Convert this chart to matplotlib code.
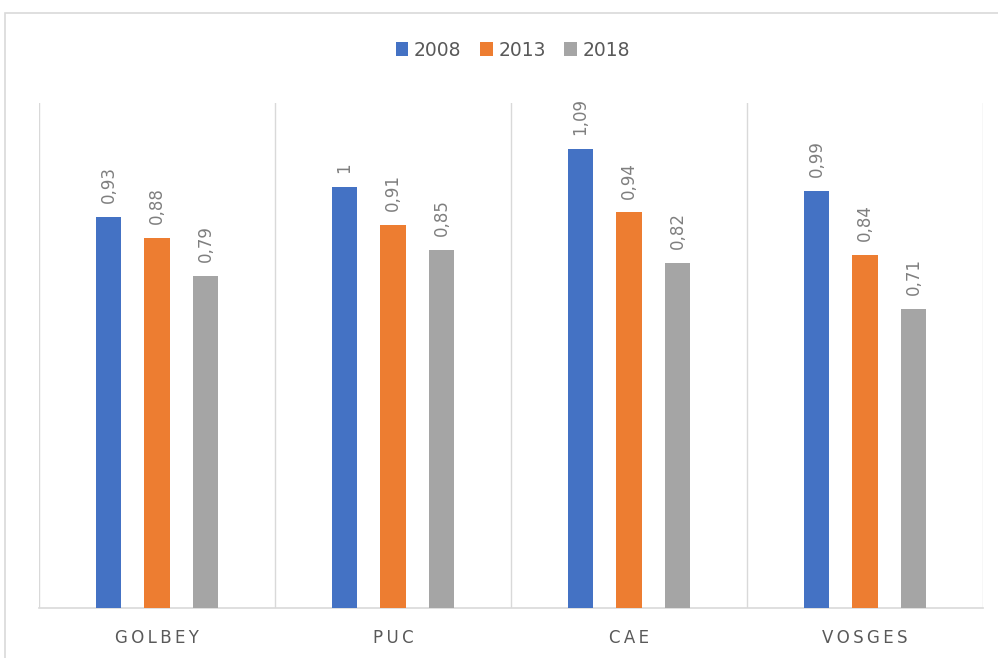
import matplotlib.pyplot as plt
import numpy as np
from matplotlib.patches import Rectangle

# Données
categories = ["GOLBEY", "PUC", "CAE", "VOSGES"]
annees = ["2008", "2013", "2018"]
v2008 = [0.93, 1.00, 1.09, 0.99]
v2013 = [0.88, 0.91, 0.94, 0.84]
v2018 = [0.79, 0.85, 0.82, 0.71]
couleurs = ["#4472C4", "#ED7D31", "#A5A5A5"]

gris = "#595959"
gris_clair = "#7F7F7F"
ligne = "#D9D9D9"

fig = plt.figure(figsize=(9.98, 6.58), dpi=100)
ax = fig.add_axes([39 / 998, 50 / 658, 944 / 998, 505 / 658])

# Cadre du graphique (coupé à droite et en bas)
fig.patches.append(Rectangle((5 / 998, -0.05), 1.2, 1 - 13 / 658 + 0.05,
                             transform=fig.transFigure, fill=False,
                             edgecolor=ligne, linewidth=1.2))

x = np.arange(len(categories))
pas = 0.205
larg = 0.106
series = [v2008, v2013, v2018]

for i, vals in enumerate(series):
    pos = x + (i - 1) * pas
    ax.bar(pos, vals, width=larg, color=couleurs[i], label=annees[i], zorder=3)
    for px, v in zip(pos, vals):
        txt = ("%g" % v).replace(".", ",")
        ax.text(px, v + 0.033, txt, rotation=90, ha="center", va="bottom",
                fontsize=12, color=gris_clair)

# Séparateurs verticaux entre catégories
for b in np.arange(-0.5, len(categories), 1):
    ax.axvline(b, color=ligne, linewidth=1, zorder=1)

ax.set_xlim(-0.5, len(categories) - 0.5)
ax.set_ylim(0, 1.2)
ax.set_yticks([])
ax.set_xticks(x)
ax.set_xticklabels(["\u2009".join(c) for c in categories], fontsize=12, color=gris)
ax.tick_params(axis="x", length=0, pad=15)
for s in ["top", "right", "left"]:
    ax.spines[s].set_visible(False)
ax.spines["bottom"].set_color(ligne)
ax.spines["bottom"].set_linewidth(1.2)

fig.legend(loc="center", bbox_to_anchor=(513 / 998, 1 - 50 / 658), ncol=3,
           frameon=False, fontsize=13.5, labelcolor=gris, handlelength=0.65,
           handleheight=0.8, handletextpad=0.3, columnspacing=1.0)

fig.savefig("out.png", dpi=100)
